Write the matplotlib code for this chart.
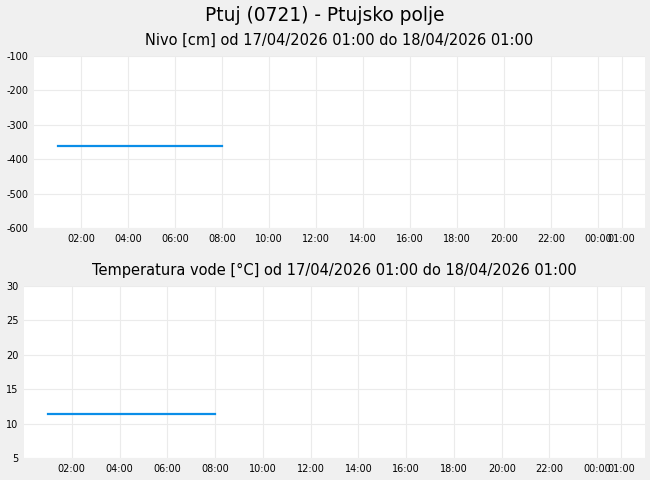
import datetime as dt
import matplotlib
matplotlib.use("Agg")
import matplotlib.pyplot as plt
import matplotlib.dates as mdates

# podatki (urne meritve)
ure = ["2026-04-17 01:00", "2026-04-17 02:00", "2026-04-17 03:00", "2026-04-17 04:00",
       "2026-04-17 05:00", "2026-04-17 06:00", "2026-04-17 07:00", "2026-04-17 08:00"]
nivo = [-362, -362, -362, -362, -362, -362, -362, -362]
temperatura = [11.4, 11.4, 11.4, 11.4, 11.4, 11.4, 11.4, 11.4]

naslov = "Ptuj (0721) - Ptujsko polje"
od = "17/04/2026 01:00"
do = "18/04/2026 01:00"

casi = [dt.datetime.strptime(u, "%Y-%m-%d %H:%M") for u in ure]
zacetek = dt.datetime(2026, 4, 17, 1, 0)
konec = dt.datetime(2026, 4, 18, 1, 0)

# oznake na x osi: vsake 2 uri + konec
oznake = [zacetek + dt.timedelta(hours=h) for h in range(1, 24, 2)] + [konec]

BARVA = "#0a8ee8"
OZADJE = "#f0f0f0"
MREZA = "#ebebeb"

plt.rcParams["axes.unicode_minus"] = False

fig = plt.figure(figsize=(6.5, 4.8), dpi=100, facecolor=OZADJE)
fig.text(0.5, 0.968, naslov, ha="center", va="center", fontsize=13.4)

ax1 = fig.add_axes([34 / 650, 1 - 228 / 480, 611 / 650, 172 / 480])
ax2 = fig.add_axes([24 / 650, 1 - 458 / 480, 621 / 650, 172 / 480])


def narisi(ax, y, ylim, yticks, podnaslov):
    ax.plot(casi, y, color=BARVA, linewidth=1.6)
    ax.set_facecolor("white")
    ax.set_ylim(*ylim)
    ax.set_yticks(yticks)
    ax.set_xlim(zacetek - dt.timedelta(hours=1), konec + dt.timedelta(hours=1))
    ax.set_xticks(oznake)
    ax.xaxis.set_major_formatter(mdates.DateFormatter("%H:%M"))
    ax.grid(True, color=MREZA, linewidth=0.8)
    ax.set_axisbelow(True)
    for s in ax.spines.values():
        s.set_visible(False)
    ax.tick_params(length=0, labelsize=7, pad=4)
    ax.set_title(podnaslov, fontsize=10.5, pad=8)


narisi(ax1, nivo, (-600, -100), [-600, -500, -400, -300, -200, -100],
       f"Nivo [cm] od {od} do {do}")
narisi(ax2, temperatura, (5, 30), [5, 10, 15, 20, 25, 30],
       f"Temperatura vode [°C] od {od} do {do}")

fig.savefig("out.png", dpi=100, facecolor=OZADJE)
